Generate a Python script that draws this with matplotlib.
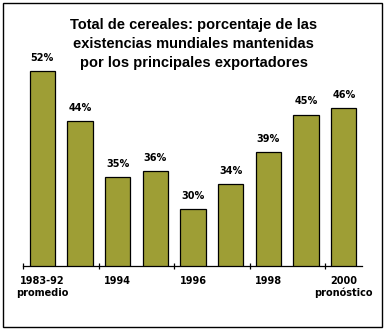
import matplotlib
matplotlib.use("Agg")
import matplotlib.pyplot as plt
from matplotlib.patches import Rectangle
from matplotlib.ticker import FixedLocator

# Data
values = [52, 44, 35, 36, 30, 34, 39, 45, 46]
value_labels = ["52%", "44%", "35%", "36%", "30%", "34%", "39%", "45%", "46%"]
tick_labels = ["1983-92\npromedio", "1994", "1996", "1998", "2000\npronóstico"]
title_lines = ["Total de cereales: porcentaje de las",
               "existencias mundiales mantenidas",
               "por los principales exportadores"]

W, H = 384, 329
fig = plt.figure(figsize=(W / 100, H / 100), dpi=100)

# Axes placement in pixels
x0, x1 = 23.5, 361.5
ybot, ytop = 266, 58.1
ax = fig.add_axes([x0 / W, (H - ybot) / H, (x1 - x0) / W, (ybot - ytop) / H])

pos = list(range(len(values)))
bars = ax.bar(pos, values, width=0.67, color="#9e9e35", edgecolor="black",
              linewidth=0.9, zorder=2)
ax.set_xlim(-0.5, 8.47)
ax.set_ylim(20.9, 54)

for p, v, lab in zip(pos, values, value_labels):
    ax.annotate(lab, (p, v), xytext=(0, 7.3), textcoords="offset points",
                ha="center", va="baseline", fontsize=7, fontweight="bold",
                family="DejaVu Sans")

for s in ["left", "right", "top"]:
    ax.spines[s].set_visible(False)
ax.spines["bottom"].set_linewidth(0.9)
ax.set_yticks([])

ax.set_xticks(pos[::2])
ax.set_xticklabels(tick_labels, fontsize=7, fontweight="bold",
                   family="DejaVu Sans", linespacing=1.15)
ax.tick_params(axis="x", which="major", length=0, pad=7.5)
ax.xaxis.set_minor_locator(FixedLocator([-0.5, 1.5, 3.5, 5.5, 7.5]))
ax.tick_params(axis="x", which="minor", direction="inout", length=4.5,
               width=0.9)

# Title lines (baselines in pixels)
for line, yb in zip(title_lines, [29.5, 48, 66.5]):
    fig.text(193.5 / W, 1 - yb / H, line, ha="center", va="baseline",
             fontsize=10.5, fontweight="bold", family="Liberation Sans")

# Frame
fig.patches.append(Rectangle((2.5 / W, 1 - 326.5 / H), 379 / W, 324 / H,
                             transform=fig.transFigure, fill=False,
                             edgecolor="black", linewidth=1.0))

fig.savefig("out.png", dpi=100)
